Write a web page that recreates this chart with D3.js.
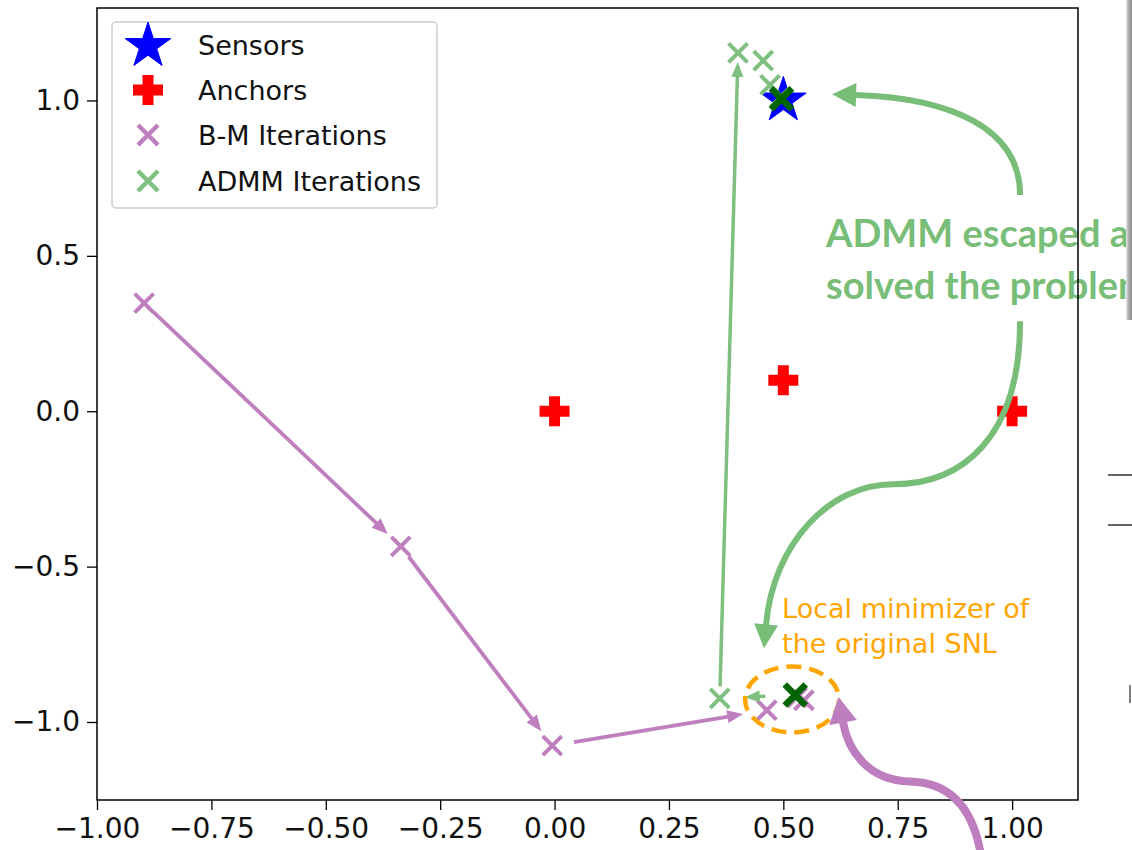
<!DOCTYPE html>
<html><head><meta charset="utf-8">
<script src="https://cdn.jsdelivr.net/npm/d3@7"></script>
<style>html,body{margin:0;padding:0;background:#fff;overflow:hidden}</style>
</head><body><svg id="c" width="1132" height="850"></svg>
<script>
// ---------------- data ----------------
const xTicks = [-1.00, -0.75, -0.50, -0.25, 0.00, 0.25, 0.50, 0.75, 1.00];
const yTicks = [-1.0, -0.5, 0.0, 0.5, 1.0];
const sensorX = [0.5], sensorY = [1.0];
const anchorX = [0.0, 0.5, 1.0], anchorY = [0.0, 0.1, 0.0];
const bmX = [-0.897, -0.336, -0.005, 0.464, 0.530, 0.545];
const bmY = [0.348, -0.435, -1.076, -0.962, -0.921, -0.930];
const admmX = [0.526, 0.361, 0.401, 0.456, 0.471, 0.493];
const admmY = [-0.912, -0.924, 1.153, 1.128, 1.050, 1.010];
const finalX = [0.526, 0.496], finalY = [-0.913, 1.005];
const legendLabels = ["Sensors", "Anchors", "B-M Iterations", "ADMM Iterations"];
const bmArrows = [[0, 1], [1, 2], [2, 3]];
const admmArrows = [[0, 1], [1, 2]];
const greenNote = ["ADMM escaped and", "solved the problem"];
const orangeNote = ["Local minimizer of", "the original SNL"];

// annotation geometry (data units)
const curveUp = [[1.0175, 0.6957], [1.0175, 0.9114], [0.8645, 1.0080], [0.6590, 1.0177]];
const curveDown = [[1.0175, 0.2899], [1.0175, -0.0934], [0.8863, -0.2351], [0.7399, -0.2351],
                   [0.5978, -0.2351], [0.4776, -0.4316], [0.4623, -0.6860]];
const curvePurple = [[0.9320, -1.4300], [0.9150, -1.2750], [0.8645, -1.1948], [0.7770, -1.1916],
                     [0.6852, -1.1884], [0.6415, -1.0918], [0.6306, -1.0016]];
const ellipseC = [0.5191, -0.9275], ellipseR = [0.1027, 0.1063];
const greenNotePos = [0.5934, 0.5282, 0.3607];
const orangeNotePos = [0.4973, -0.6667, -0.7794];

// ---------------- layout ----------------
const L = 97, R = 1078, T = 8, B = 800;
const x = d3.scaleLinear().domain([-1.0, 1.144]).range([L, R]);
const y = d3.scaleLinear().domain([-1.251, 1.2975]).range([B, T]);
const svg = d3.select("#c");

const cPurple = "#bf7fbf", cGreen = "#7fbf7f", cDark = "#006400";
const cNoteG = "rgb(120,189,120)", cNoteP = "rgb(190,125,190)", cOrange = "#ffa500";

// ---------------- marker shapes ----------------
function starPath(r) {
  const ri = r * 0.381966, pts = [];
  for (let i = 0; i < 10; i++) {
    const a = -Math.PI / 2 + i * Math.PI / 5, rr = i % 2 ? ri : r;
    pts.push([rr * Math.cos(a), rr * Math.sin(a)]);
  }
  return "M" + pts.map(p => p.join(",")).join("L") + "Z";
}
function plusPath(s, t) {
  return `M${-t},${-s}L${t},${-s}L${t},${-t}L${s},${-t}L${s},${t}L${t},${t}L${t},${s}L${-t},${s}L${-t},${t}L${-s},${t}L${-s},${-t}L${-t},${-t}Z`;
}
function xPath(r) { return `M${-r},${-r}L${r},${r}M${-r},${r}L${r},${-r}`; }

function drawStar(g, px, py, r) {
  g.append("path").attr("d", starPath(r)).attr("transform", `translate(${px},${py})`)
    .attr("fill", "#0000ff").attr("stroke", "#0000ff").attr("stroke-width", 1);
}
function drawPlus(g, px, py) {
  g.append("path").attr("d", plusPath(15, 5.5)).attr("transform", `translate(${px},${py})`)
    .attr("fill", "#ff0000");
}
function drawX(g, px, py, r, color, w) {
  g.append("path").attr("d", xPath(r)).attr("transform", `translate(${px},${py})`)
    .attr("fill", "none").attr("stroke", color).attr("stroke-width", w);
}
function straightArrow(g, x1, y1, x2, y2, sA, sB, color, lw, hl, hw) {
  const dx = x2 - x1, dy = y2 - y1, len = Math.hypot(dx, dy), ux = dx / len, uy = dy / len;
  const sx = x1 + ux * sA, sy = y1 + uy * sA, tx = x2 - ux * sB, ty = y2 - uy * sB;
  const bx = tx - ux * hl, by = ty - uy * hl;
  g.append("line").attr("x1", sx).attr("y1", sy).attr("x2", bx + ux).attr("y2", by + uy)
    .attr("stroke", color).attr("stroke-width", lw);
  g.append("path").attr("d", `M${tx},${ty}L${bx - uy * hw / 2},${by + ux * hw / 2}L${bx + uy * hw / 2},${by - ux * hw / 2}Z`)
    .attr("fill", color);
}
function curvedArrow(g, pts, color, lw, hl, hw) {
  const P = pts.map(p => [x(p[0]), y(p[1])]);
  let d = `M${P[0][0]},${P[0][1]}`;
  for (let i = 1; i < P.length; i += 3) d += `C${P[i].join(",")} ${P[i + 1].join(",")} ${P[i + 2].join(",")}`;
  const e = P[P.length - 1], c = P[P.length - 2];
  const dx = e[0] - c[0], dy = e[1] - c[1], len = Math.hypot(dx, dy), ux = dx / len, uy = dy / len;
  g.append("path").attr("d", d + `L${e[0] + ux * 2},${e[1] + uy * 2}`).attr("fill", "none")
    .attr("stroke", color).attr("stroke-width", lw);
  const tx = e[0] + ux * hl, ty = e[1] + uy * hl;
  g.append("path").attr("d", `M${tx},${ty}L${e[0] - uy * hw / 2},${e[1] + ux * hw / 2}L${e[0] + uy * hw / 2},${e[1] - ux * hw / 2}Z`)
    .attr("fill", color);
}

// ---------------- axes ----------------
const fontTick = "'DejaVu Sans', sans-serif";
const gx = svg.append("g").attr("transform", `translate(0,${B})`)
  .call(d3.axisBottom(x).tickValues(xTicks).tickFormat(d3.format(".2f")).tickSize(10).tickPadding(8));
const gy = svg.append("g").attr("transform", `translate(${L},0)`)
  .call(d3.axisLeft(y).tickValues(yTicks).tickFormat(d3.format(".1f")).tickSize(10).tickPadding(7));
[gx, gy].forEach(g => {
  g.select(".domain").remove();
  g.selectAll(".tick line").attr("stroke", "#000").attr("stroke-width", 1.3);
  g.selectAll(".tick text").attr("font-family", fontTick).attr("font-size", 28).attr("fill", "#111");
});

// ---------------- annotation text (under frame) ----------------
const gt = svg.append("g");
greenNote.forEach((t, i) => gt.append("text").attr("x", x(greenNotePos[0])).attr("y", y(greenNotePos[1 + i]))
  .attr("font-family", "Lato, 'Open Sans', sans-serif").attr("font-weight", 700).attr("font-size", 38)
  .attr("fill", cNoteG).text(t));

// ---------------- frame ----------------
svg.append("rect").attr("x", L).attr("y", T).attr("width", R - L).attr("height", B - T)
  .attr("fill", "none").attr("stroke", "#000").attr("stroke-width", 1.5);

// ---------------- plot content ----------------
const gp = svg.append("g");
anchorX.forEach((v, i) => drawPlus(gp, x(v), y(anchorY[i])));
bmArrows.forEach(([a, b], k) => straightArrow(gp, x(bmX[a]), y(bmY[a]), x(bmX[b]), y(bmY[b]),
  k === 2 ? 22 : 13, k === 2 ? 24 : 18, cPurple, 3.8, 16, 13));
bmX.forEach((v, i) => drawX(gp, x(v), y(bmY[i]), 9.5, cPurple, 4));
sensorX.forEach((v, i) => drawStar(gp, x(v), y(sensorY[i]), 24));
admmArrows.forEach(([a, b], k) => straightArrow(gp, x(admmX[a]), y(admmY[a]), x(admmX[b]), y(admmY[b]),
  k === 0 ? 30 : 12, k === 0 ? 25 : 9, cGreen, 3.5, 15, 12));
admmX.forEach((v, i) => drawX(gp, x(v), y(admmY[i]), 9.5, cGreen, 4));
finalX.forEach((v, i) => drawX(gp, x(v), y(finalY[i]), 10.5, cDark, 6.5));

// orange ellipse + note
gp.append("ellipse").attr("cx", x(ellipseC[0])).attr("cy", y(ellipseC[1]))
  .attr("rx", x(ellipseC[0] + ellipseR[0]) - x(ellipseC[0]))
  .attr("ry", y(ellipseC[1]) - y(ellipseC[1] + ellipseR[1]))
  .attr("fill", "none").attr("stroke", cOrange).attr("stroke-width", 4.5).attr("stroke-dasharray", "15,8");
orangeNote.forEach((t, i) => gp.append("text").attr("x", x(orangeNotePos[0])).attr("y", y(orangeNotePos[1 + i]))
  .attr("font-family", fontTick).attr("font-size", 27).attr("fill", cOrange).text(t));

// ---------------- legend ----------------
const lg = svg.append("g");
lg.append("rect").attr("x", 112).attr("y", 22).attr("width", 325).attr("height", 186).attr("rx", 4)
  .attr("fill", "#fff").attr("fill-opacity", 0.8).attr("stroke", "#cccccc").attr("stroke-width", 1.5);
const ly = [45, 90, 135, 181];
drawStar(lg, 148, ly[0] + 1, 24);
drawPlus(lg, 148, ly[1]);
drawX(lg, 148, ly[2], 10, cPurple, 4.5);
drawX(lg, 148, ly[3], 10, cGreen, 4.5);
legendLabels.forEach((t, i) => lg.append("text").attr("x", 198).attr("y", ly[i])
  .attr("dy", "0.36em").attr("font-family", fontTick).attr("font-size", 27).attr("fill", "#111").text(t));

// ---------------- curved annotation arrows ----------------
const ga = svg.append("g");
curvedArrow(ga, curveUp, cNoteG, 6, 24, 24);
curvedArrow(ga, curveDown, cNoteG, 6, 24, 24);
curvedArrow(ga, curvePurple, cNoteP, 8, 26, 28);

// ---------------- slide remnants at right edge ----------------
const defs = svg.append("defs");
const grad = defs.append("linearGradient").attr("id", "sh").attr("x1", 0).attr("x2", 1);
grad.append("stop").attr("offset", 0).attr("stop-color", "#e6e6e6");
grad.append("stop").attr("offset", 0.5).attr("stop-color", "#a8a8a8");
grad.append("stop").attr("offset", 1).attr("stop-color", "#909090");
svg.append("rect").attr("x", 1126).attr("y", 0).attr("width", 6).attr("height", 320).attr("fill", "url(#sh)");
[475, 525].forEach(v => svg.append("line").attr("x1", 1108).attr("x2", 1132).attr("y1", v).attr("y2", v)
  .attr("stroke", "#333").attr("stroke-width", 1.5));
svg.append("line").attr("x1", 1130).attr("x2", 1130).attr("y1", 685).attr("y2", 703)
  .attr("stroke", "#555").attr("stroke-width", 1.5);
</script></body></html>
